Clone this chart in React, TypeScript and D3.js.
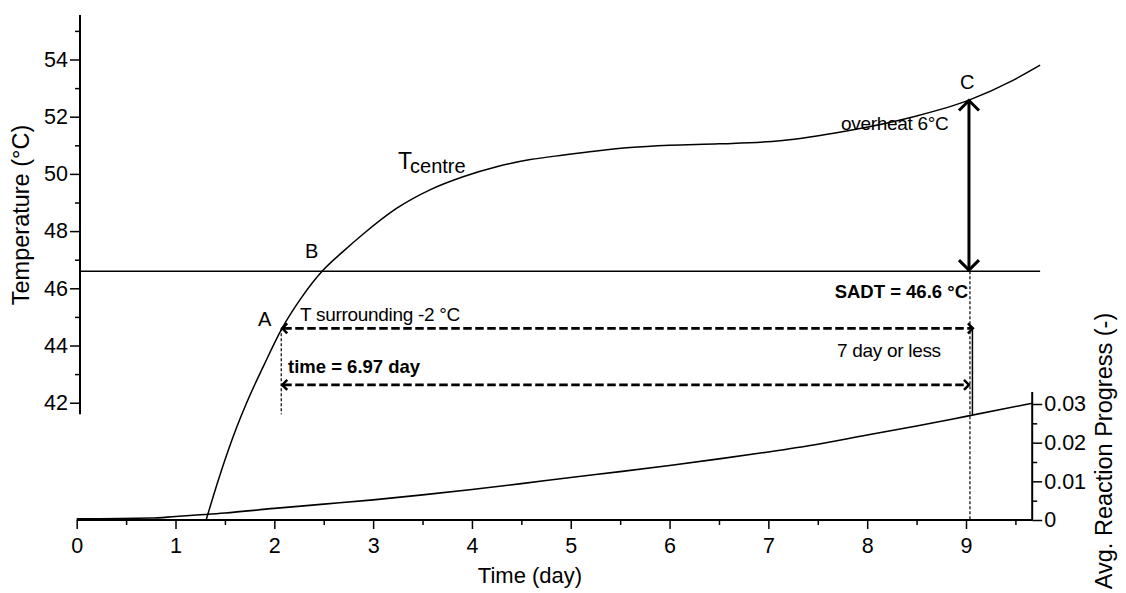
import React, { useRef, useEffect } from 'react';
import * as d3 from 'd3';

// centre temperature (°C) vs time (day)
const tempDays = [1.31, 1.42, 1.52, 1.62, 1.72, 1.9, 2.075, 2.28, 2.49, 2.7, 2.9, 3.24, 3.58, 3.91, 4.25, 4.59, 4.93, 5.26, 5.6, 6.0, 6.5, 7.12, 7.79, 8.47, 9.03, 9.48, 9.75];
const tempValues = [37.9, 39.15, 40.2, 41.15, 42.0, 43.35, 44.58, 45.7, 46.62, 47.3, 47.9, 48.8, 49.45, 49.9, 50.25, 50.5, 50.66, 50.8, 50.92, 51.0, 51.05, 51.16, 51.5, 52.0, 52.58, 53.28, 53.8];

// average reaction progress (-) vs time (day)
const progDays = [0, 0.75, 1.0, 1.5, 2, 2.5, 3, 3.5, 4, 4.5, 5, 5.5, 6, 6.5, 7, 7.5, 8, 8.5, 9, 9.67];
const progValues = [0.0003, 0.0005, 0.0009, 0.0018, 0.003, 0.0041, 0.0052, 0.0065, 0.0079, 0.0094, 0.011, 0.0125, 0.0141, 0.0158, 0.0176, 0.0196, 0.022, 0.0243, 0.0268, 0.0302];

const xTicks = [0, 1, 2, 3, 4, 5, 6, 7, 8, 9];
const xMinor = [0.5, 1.5, 2.5, 3.5, 4.5, 5.5, 6.5, 7.5, 8.5, 9.5];
const tTicks = [42, 44, 46, 48, 50, 52, 54];
const tMinor = [43, 45, 47, 49, 51, 53, 55];
const pTicks = [0, 0.01, 0.02, 0.03];
const pMinor = [0.005, 0.015, 0.025];

// annotation values
const SADT = 46.6;
const OVERHEAT = 6;
const SURROUND_OFFSET = -2;
const dayA = 2.07;
const dayEnd = 9.04;

const FONT = '"Liberation Sans", Arial, Helvetica, sans-serif';

const W = 1126;
const H = 593;

const App: React.FC = () => {
  const svgRef = useRef<SVGSVGElement>(null);

  useEffect(() => {
    if (!svgRef.current) return;
    const svg = d3.select(svgRef.current);
    svg.selectAll('*').remove();

    const x = d3.scaleLinear().domain([0, 9]).range([76.7, 966]);
    const yT = d3.scaleLinear().domain([42, 54]).range([402.7, 59.5]);
    const yP = d3.scaleLinear().domain([0, 0.03]).range([520, 404]);

    const leftX = 80;
    const rightX = x(9.67);
    const baseY = yP(0);

    const g = svg.append('g').style('font-family', FONT);

    // axis lines
    g.append('line').attr('x1', leftX).attr('x2', leftX).attr('y1', yT(55.56)).attr('y2', yT(41.6))
      .attr('stroke', '#000').attr('stroke-width', 2);
    g.append('line').attr('x1', x(0)).attr('x2', rightX).attr('y1', baseY).attr('y2', baseY)
      .attr('stroke', '#000').attr('stroke-width', 2);
    g.append('line').attr('x1', rightX).attr('x2', rightX).attr('y1', yP(0.0331)).attr('y2', baseY)
      .attr('stroke', '#000').attr('stroke-width', 2);

    const styleAxis = (sel: d3.Selection<SVGGElement, unknown, null, undefined>) => {
      sel.select('.domain').remove();
      sel.selectAll('line').attr('stroke', '#000').attr('stroke-width', 1.5);
      sel.selectAll('text').attr('fill', '#000').style('font-size', '21.5px').style('font-family', FONT);
    };

    // bottom axis
    const xAxis = g.append('g').attr('transform', `translate(0,${baseY})`)
      .call(d3.axisBottom(x).tickValues(xTicks).tickSize(9).tickPadding(9).tickFormat(d3.format('d')));
    styleAxis(xAxis);
    const xAxisMinor = g.append('g').attr('transform', `translate(0,${baseY})`)
      .call(d3.axisBottom(x).tickValues(xMinor).tickSize(5).tickFormat(() => ''));
    styleAxis(xAxisMinor);

    // left axis
    const tAxis = g.append('g').attr('transform', `translate(${leftX},0)`)
      .call(d3.axisLeft(yT).tickValues(tTicks).tickSize(10).tickPadding(2).tickFormat(d3.format('d')));
    styleAxis(tAxis);
    const tAxisMinor = g.append('g').attr('transform', `translate(${leftX},0)`)
      .call(d3.axisLeft(yT).tickValues(tMinor).tickSize(5).tickFormat(() => ''));
    styleAxis(tAxisMinor);

    // right axis
    const pAxis = g.append('g').attr('transform', `translate(${rightX},0)`)
      .call(d3.axisRight(yP).tickValues(pTicks).tickSize(10).tickPadding(2)
        .tickFormat((d) => ((d as number) === 0 ? '0' : d3.format('.2f')(d as number))));
    styleAxis(pAxis);
    const pAxisMinor = g.append('g').attr('transform', `translate(${rightX},0)`)
      .call(d3.axisRight(yP).tickValues(pMinor).tickSize(5).tickFormat(() => ''));
    styleAxis(pAxisMinor);

    // axis titles
    g.append('text').attr('transform', `translate(29,215) rotate(-90)`).attr('text-anchor', 'middle')
      .style('font-size', '23.5px').text('Temperature (°C)');
    g.append('text').attr('transform', `translate(1112,451) rotate(-90)`).attr('text-anchor', 'middle')
      .style('font-size', '23.5px').text('Avg. Reaction Progress (-)');
    g.append('text').attr('x', 530).attr('y', 583).attr('text-anchor', 'middle')
      .style('font-size', '22px').text('Time (day)');

    // SADT line
    g.append('line').attr('x1', leftX).attr('x2', x(9.75)).attr('y1', yT(SADT)).attr('y2', yT(SADT))
      .attr('stroke', '#000').attr('stroke-width', 1.5);

    // curves
    const tempData = tempDays.map((d, i) => [d, tempValues[i]] as [number, number]);
    const progData = progDays.map((d, i) => [d, progValues[i]] as [number, number]);

    const tempLine = d3.line<[number, number]>().x((d) => x(d[0])).y((d) => yT(d[1])).curve(d3.curveMonotoneX);
    const progLine = d3.line<[number, number]>().x((d) => x(d[0])).y((d) => yP(d[1])).curve(d3.curveMonotoneX);

    g.append('path').datum(tempData).attr('d', tempLine).attr('fill', 'none').attr('stroke', '#000').attr('stroke-width', 1.5);
    g.append('path').datum(progData).attr('d', progLine).attr('fill', 'none').attr('stroke', '#000').attr('stroke-width', 1.6);

    // dotted verticals
    g.append('line').attr('x1', x(dayA)).attr('x2', x(dayA)).attr('y1', yT(SADT + SURROUND_OFFSET)).attr('y2', yT(41.6))
      .attr('stroke', '#000').attr('stroke-width', 1.2).attr('stroke-dasharray', '3,2');
    g.append('line').attr('x1', x(dayEnd)).attr('x2', x(dayEnd)).attr('y1', yT(SADT)).attr('y2', baseY)
      .attr('stroke', '#000').attr('stroke-width', 1.2).attr('stroke-dasharray', '3,2');

    // thin solid vertical between upper arrow and progress curve
    const interp = d3.scaleLinear().domain(progDays).range(progValues);
    g.append('line').attr('x1', x(9.065)).attr('x2', x(9.065))
      .attr('y1', yT(SADT + SURROUND_OFFSET)).attr('y2', yP(interp(9.065)))
      .attr('stroke', '#000').attr('stroke-width', 1.5);

    // overheat double arrow
    const ax = x(9.03);
    const yTop = yT(SADT + OVERHEAT);
    const yBot = yT(SADT);
    g.append('line').attr('x1', ax).attr('x2', ax).attr('y1', yTop).attr('y2', yBot)
      .attr('stroke', '#000').attr('stroke-width', 3);
    const bigHead = d3.line();
    g.append('path').attr('d', bigHead([[ax - 10, yTop + 11], [ax, yTop + 1], [ax + 10, yTop + 11]]))
      .attr('fill', 'none').attr('stroke', '#000').attr('stroke-width', 3);
    g.append('path').attr('d', bigHead([[ax - 10, yBot - 11], [ax, yBot - 1], [ax + 10, yBot - 11]]))
      .attr('fill', 'none').attr('stroke', '#000').attr('stroke-width', 3);

    // dashed double arrows
    const dashedArrow = (x1: number, x2: number, y: number) => {
      g.append('line').attr('x1', x1 + 2).attr('x2', x2 - 2).attr('y1', y).attr('y2', y)
        .attr('stroke', '#000').attr('stroke-width', 2.7).attr('stroke-dasharray', '8.5,3.5');
      const h = d3.line();
      g.append('path').attr('d', h([[x1 + 6, y - 5], [x1 + 1, y], [x1 + 6, y + 5]]))
        .attr('fill', 'none').attr('stroke', '#000').attr('stroke-width', 2.5);
      g.append('path').attr('d', h([[x2 - 6, y - 5], [x2 - 1, y], [x2 - 6, y + 5]]))
        .attr('fill', 'none').attr('stroke', '#000').attr('stroke-width', 2.5);
    };
    dashedArrow(x(dayA), x(9.08), yT(SADT + SURROUND_OFFSET));
    dashedArrow(x(dayA), x(dayEnd), yT(42.62));

    // labels
    g.append('text').attr('x', 258).attr('y', 326).style('font-size', '20px').text('A');
    g.append('text').attr('x', 305).attr('y', 258).style('font-size', '20px').text('B');
    g.append('text').attr('x', 960).attr('y', 89).style('font-size', '20px').text('C');

    const tc = g.append('text').attr('x', 398).attr('y', 169).style('font-size', '23px');
    tc.append('tspan').text('T');
    tc.append('tspan').attr('dy', 4).attr('dx', -2).style('font-size', '20px').text('centre');

    g.append('text').attr('x', 841).attr('y', 130).style('font-size', '19px').style('letter-spacing', '-0.3px')
      .text('overheat 6°C');
    g.append('text').attr('x', 968).attr('y', 298).attr('text-anchor', 'end').style('font-size', '18.5px')
      .style('font-weight', 'bold').text('SADT = 46.6 °C');
    g.append('text').attr('x', 300).attr('y', 321).style('font-size', '19px').style('letter-spacing', '-0.3px')
      .text('T surrounding -2 °C');
    g.append('text').attr('x', 288).attr('y', 373).style('font-size', '18.5px').style('font-weight', 'bold')
      .text('time = 6.97 day');
    g.append('text').attr('x', 837).attr('y', 357).style('font-size', '19px').style('letter-spacing', '-0.3px')
      .text('7 day or less');
  }, []);

  return (
    <svg
      ref={svgRef}
      width={W}
      height={H}
      style={{ position: 'absolute', left: 0, top: 0, background: '#fff', display: 'block' }}
    />
  );
};

export default App;
